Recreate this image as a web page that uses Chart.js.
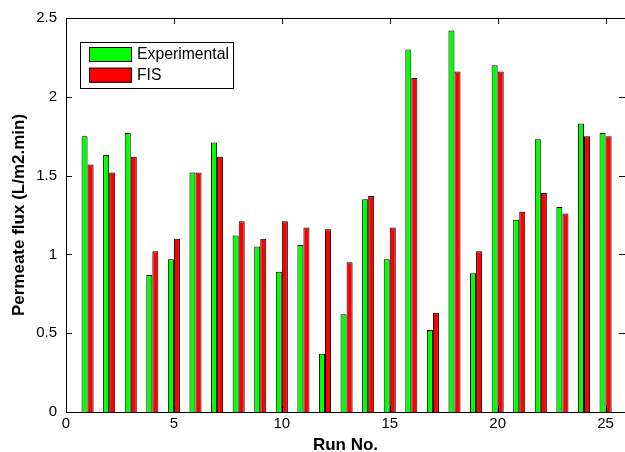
<!DOCTYPE html>
<html>
<head>
<meta charset="utf-8">
<script src="https://cdn.jsdelivr.net/npm/chart.js@4"></script>
<style>
html,body{margin:0;padding:0;overflow:hidden;background:#fff;}
#wrap{width:625px;height:452px;position:relative;}
</style>
</head>
<body>
<div id="wrap"><canvas id="c" width="625" height="452"></canvas></div>
<script>
const runs = [1,2,3,4,5,6,7,8,9,10,11,12,13,14,15,16,17,18,19,20,21,22,23,24,25];
const experimental = [1.75,1.63,1.77,0.87,0.97,1.52,1.71,1.12,1.05,0.89,1.06,0.37,0.62,1.35,0.97,2.30,0.52,2.42,0.88,2.20,1.22,1.73,1.30,1.83,1.77];
const fis = [1.57,1.52,1.62,1.02,1.10,1.52,1.62,1.21,1.10,1.21,1.17,1.16,0.95,1.37,1.17,2.12,0.63,2.16,1.02,2.16,1.27,1.39,1.26,1.75,1.75];
const xTicks = [0,5,10,15,20,25];
const yTicks = [0,0.5,1,1.5,2,2.5];
const seriesNames = ['Experimental','FIS'];

const FONT = 'Liberation Sans, Arial, Helvetica, sans-serif';

const boxTicks = {
  id:'boxTicks',
  afterDraw(chart){
    const ctx = chart.ctx, a = chart.chartArea;
    const xs = chart.scales.x, ys = chart.scales.y;
    ctx.save();
    ctx.strokeStyle = '#000';
    ctx.lineWidth = 1;
    ctx.beginPath();
    ctx.rect(Math.round(a.left)+0.5, Math.round(a.top)+0.5, Math.round(a.right-a.left), Math.round(a.bottom-a.top));
    ctx.stroke();
    const L = 6;
    ctx.beginPath();
    xTicks.forEach(v=>{
      const p = Math.round(xs.getPixelForValue(v))+0.5;
      ctx.moveTo(p,a.bottom); ctx.lineTo(p,a.bottom-L);
      ctx.moveTo(p,a.top); ctx.lineTo(p,a.top+L);
    });
    yTicks.forEach(v=>{
      const p = Math.round(ys.getPixelForValue(v))+0.5;
      ctx.moveTo(a.left,p); ctx.lineTo(a.left+L,p);
      ctx.moveTo(a.right,p); ctx.lineTo(a.right-L,p);
    });
    ctx.stroke();
    // legend
    const bx=80.5, by=42.5, bw=153, bh=46;
    ctx.fillStyle='#fff';
    ctx.fillRect(bx,by,bw,bh);
    ctx.strokeRect(bx,by,bw,bh);
    ctx.font = '15.75px ' + FONT;
    ctx.textBaseline = 'middle';
    chart.data.datasets.forEach((ds,i)=>{
      const sy = 47 + i*20.7;
      ctx.fillStyle = ds.backgroundColor;
      ctx.fillRect(89, sy, 43, 15);
      ctx.strokeStyle='#000';
      ctx.strokeRect(89.5, sy+0.5, 42, 14);
      ctx.fillStyle='#000';
      ctx.fillText(ds.label, 137, sy+8);
    });
    ctx.restore();
  }
};

new Chart(document.getElementById('c'), {
  type:'bar',
  data:{
    datasets:[
      {label:seriesNames[0], data:runs.map((r,i)=>({x:r,y:experimental[i]})), backgroundColor:'#00ff00', borderColor:'#000', borderWidth:1, borderSkipped:'bottom'},
      {label:seriesNames[1], data:runs.map((r,i)=>({x:r,y:fis[i]})), backgroundColor:'#ff0000', borderColor:'#000', borderWidth:1, borderSkipped:'bottom'}
    ]
  },
  options:{
    responsive:false,
    animation:false,
    devicePixelRatio:1,
    categoryPercentage:0.56,
    barPercentage:1.0,
    layout:{padding:{left:0,top:18,right:0,bottom:0}},
    plugins:{legend:{display:false},tooltip:{enabled:false}},
    events:[],
    scales:{
      x:{
        type:'linear', min:0, max:25.9, offset:false,
        grid:{display:false, drawTicks:false},
        border:{display:false},
        afterBuildTicks(s){ s.ticks = xTicks.map(v=>({value:v})); },
        afterFit(s){ s.height = 40; },
        ticks:{color:'#000', font:{family:FONT,size:15}, padding:3, maxRotation:0, autoSkip:false, callback:v=>String(v)},
        title:{display:true, text:'Run No.', color:'#000', font:{family:FONT,size:17,weight:'bold',lineHeight:0.8}, padding:{top:0,bottom:0}}
      },
      y:{
        type:'linear', min:0, max:2.5,
        grid:{display:false, drawTicks:false},
        border:{display:false},
        afterBuildTicks(s){ s.ticks = yTicks.map(v=>({value:v})); },
        afterFit(s){ s.width = 66; },
        ticks:{color:'#000', font:{family:FONT,size:15}, padding:9, callback:v=>String(v)},
        title:{display:true, text:'Permeate flux (L/m2.min)', color:'#000', font:{family:FONT,size:17,weight:'bold',lineHeight:1.2}, padding:{top:9,bottom:0}}
      }
    }
  },
  plugins:[boxTicks]
});
</script>
</body>
</html>
